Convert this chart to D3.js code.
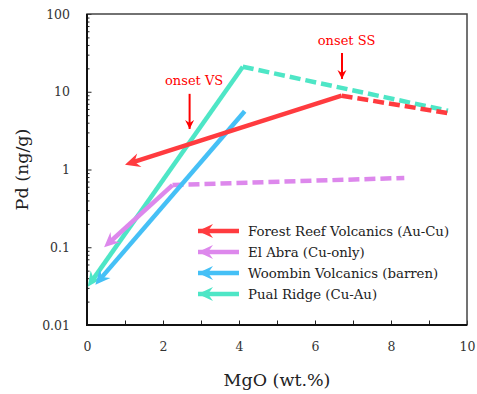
<!DOCTYPE html>
<html>
<head>
<meta charset="utf-8">
<script src="https://cdn.jsdelivr.net/npm/d3@7"></script>
<style>
  body { margin: 0; background: #fff; }
  svg text { font-family: "DejaVu Serif", serif; }
</style>
</head>
<body>
<svg id="chart" width="477" height="394"></svg>
<script>
// Trend segments: [MgO wt.%, Pd ng/g]
const seriesNames = ['Forest Reef Volcanics (Au-Cu)', 'El Abra (Cu-only)', 'Woombin Volcanics (barren)', 'Pual Ridge (Cu-Au)'];
const seriesColors = ['#ff3b3f', '#dd88ec', '#45c0f6', '#4ee6c6'];

// solid arrows (last point is the arrow tip)
const forestReefSolid = [[6.7, 8.9], [1.0, 1.15]];
const elAbraSolid = [[2.25, 0.63], [0.45, 0.1]];
const woombinSolid = [[4.15, 5.6], [0.22, 0.033]];
const pualRidgeSolid = [[4.1, 21], [0.02, 0.031]];

// dashed extensions
const forestReefDashed = [[6.7, 8.9], [9.5, 5.3]];
const elAbraDashed = [[2.25, 0.63], [8.35, 0.78]];
const pualRidgeDashed = [[4.1, 21], [9.5, 5.7]];

// annotations: label position, arrow start, arrow tip
const annoLabels = ['onset VS', 'onset SS'];
const annoText = [[2.82, 12.2], [6.83, 40]];
const annoFrom = [[2.7, 9.4], [6.71, 31.5]];
const annoTo = [[2.7, 2.95], [6.71, 13]];

const xTicks = [0, 1, 2, 3, 4, 5, 6, 7, 8, 9, 10];
const yTicks = [0.01, 0.1, 1, 10, 100];

const width = 477, height = 394;
const margin = { top: 14, right: 10, bottom: 69, left: 87 };

const svg = d3.select('#chart');
const x = d3.scaleLinear().domain([0, 10]).range([margin.left, width - margin.right]);
const y = d3.scaleLog().domain([0.01, 100]).range([height - margin.bottom, margin.top]);

// arrowhead markers
const defs = svg.append('defs');
seriesColors.forEach((c, i) => {
  defs.append('marker')
    .attr('id', 'head' + i)
    .attr('viewBox', '-16 -8 18 16')
    .attr('markerUnits', 'userSpaceOnUse')
    .attr('markerWidth', 18).attr('markerHeight', 16)
    .attr('refX', 0).attr('refY', 0)
    .attr('orient', 'auto')
    .append('path')
    .attr('d', 'M0,0 L-15,-7 L-10,0 L-15,7 Z')
    .attr('fill', c);
});
defs.append('marker')
  .attr('id', 'annoHead')
  .attr('viewBox', '-10 -6 12 12')
  .attr('markerUnits', 'userSpaceOnUse')
  .attr('markerWidth', 12).attr('markerHeight', 12)
  .attr('refX', 0).attr('refY', 0)
  .attr('orient', 'auto')
  .append('path')
  .attr('d', 'M0,0 L-9,-4.5 L-6,0 L-9,4.5 Z')
  .attr('fill', '#ff0000');

// y axis ticks (inward)
const minor = [];
[0.01, 0.1, 1, 10].forEach(d => { for (let k = 2; k <= 9; k++) minor.push(d * k); });

svg.append('g')
  .attr('transform', `translate(${margin.left},0)`)
  .call(d3.axisLeft(y).tickValues(minor).tickSize(-2.5).tickFormat(''))
  .call(g => g.select('.domain').remove())
  .selectAll('line').attr('stroke', '#222');

svg.append('g')
  .attr('transform', `translate(${margin.left},0)`)
  .call(d3.axisLeft(y).tickValues(yTicks).tickSize(-4.5).tickPadding(17).tickFormat(d3.format('~g')))
  .call(g => g.select('.domain').remove())
  .call(g => g.selectAll('line').attr('stroke', '#222'))
  .call(g => g.selectAll('text').attr('font-size', 12.5).attr('fill', '#333').attr('font-family', '"DejaVu Serif", serif'));

svg.append('g')
  .attr('transform', `translate(0,${height - margin.bottom})`)
  .call(d3.axisBottom(x).tickValues(xTicks).tickSize(-4.5).tickPadding(17)
    .tickFormat(d => d % 2 === 0 ? d : ''))
  .call(g => g.select('.domain').remove())
  .call(g => g.selectAll('line').attr('stroke', '#222'))
  .call(g => g.selectAll('text').attr('font-size', 12.5).attr('fill', '#333').attr('font-family', '"DejaVu Serif", serif'));

// frame
svg.append('rect')
  .attr('x', margin.left).attr('y', margin.top)
  .attr('width', width - margin.left - margin.right)
  .attr('height', height - margin.top - margin.bottom)
  .attr('fill', 'none').attr('stroke', '#444').attr('stroke-width', 1.5);
svg.append('path')
  .attr('d', `M${margin.left},${margin.top}V${height - margin.bottom}H${width - margin.right}`)
  .attr('fill', 'none').attr('stroke', '#111').attr('stroke-width', 2);

// axis titles
svg.append('text')
  .attr('x', (margin.left + width - margin.right) / 2)
  .attr('y', 386)
  .attr('text-anchor', 'middle')
  .attr('font-size', 17.5).attr('fill', '#222')
  .text('MgO (wt.%)');
svg.append('text')
  .attr('transform', 'rotate(-90)')
  .attr('x', -(margin.top + height - margin.bottom) / 2)
  .attr('y', 28)
  .attr('text-anchor', 'middle')
  .attr('font-size', 17.5).attr('fill', '#222')
  .text('Pd (ng/g)');

const line = d3.line().x(d => x(d[0])).y(d => y(d[1]));
const plot = svg.append('g');

// dashed parts
const dashed = [[pualRidgeDashed, 3], [forestReefDashed, 0], [elAbraDashed, 1]];
dashed.forEach(([pts, i]) => {
  plot.append('path')
    .attr('d', line(pts))
    .attr('fill', 'none')
    .attr('stroke', seriesColors[i])
    .attr('stroke-width', 4.5)
    .attr('stroke-dasharray', '11,5');
});

// solid arrows: pull the line end back a little so the head covers it
function arrowPath(pts) {
  const p = pts.map(d => [x(d[0]), y(d[1])]);
  const a = p[p.length - 2], b = p[p.length - 1];
  const len = Math.hypot(b[0] - a[0], b[1] - a[1]);
  const back = 6;
  const end = [b[0] - (b[0] - a[0]) / len * back, b[1] - (b[1] - a[1]) / len * back];
  return { line: d3.line()([...p.slice(0, -1), end]), tip: b, from: end };
}

const solid = [[pualRidgeSolid, 3], [woombinSolid, 2], [elAbraSolid, 1], [forestReefSolid, 0]];
solid.forEach(([pts, i]) => {
  const ap = arrowPath(pts);
  plot.append('path')
    .attr('d', ap.line)
    .attr('fill', 'none')
    .attr('stroke', seriesColors[i])
    .attr('stroke-width', 4.5);
  plot.append('path')
    .attr('d', d3.line()([ap.from, ap.tip]))
    .attr('stroke', 'none')
    .attr('marker-end', `url(#head${i})`);
});

// annotations
annoLabels.forEach((t, i) => {
  svg.append('text')
    .attr('x', x(annoText[i][0])).attr('y', y(annoText[i][1]))
    .attr('text-anchor', 'middle')
    .attr('font-size', 13).attr('fill', '#ff0000')
    .text(t);
  svg.append('line')
    .attr('x1', x(annoFrom[i][0])).attr('y1', y(annoFrom[i][1]))
    .attr('x2', x(annoTo[i][0])).attr('y2', y(annoTo[i][1]) - 4)
    .attr('stroke', '#ff0000').attr('stroke-width', 2)
    .attr('marker-end', 'url(#annoHead)');
});

// legend
const legend = svg.append('g').attr('transform', 'translate(192,231)');
seriesNames.forEach((name, i) => {
  const g = legend.append('g').attr('transform', `translate(0,${i * 21})`);
  g.append('line')
    .attr('x1', 47).attr('x2', 6)
    .attr('stroke', seriesColors[i]).attr('stroke-width', 4.5)
    .attr('marker-end', `url(#head${i})`);
  g.append('text')
    .attr('x', 56).attr('y', 5)
    .attr('font-size', 13.3).attr('fill', '#222')
    .text(name);
});
</script>
</body>
</html>
